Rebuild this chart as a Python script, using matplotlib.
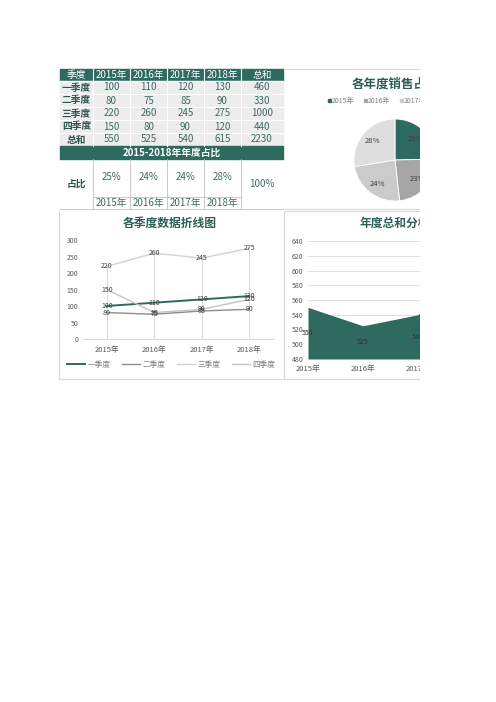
import numpy as np
import matplotlib
matplotlib.use("Agg")
import matplotlib.pyplot as plt
from matplotlib.patches import Rectangle

plt.rcParams['font.family'] = ['Noto Sans CJK SC', 'DejaVu Sans']

W, H = 496, 702

# ---- data --------------------------------------------------------------
quarters = ['一季度', '二季度', '三季度', '四季度']
years = ['2015年', '2016年', '2017年', '2018年']
q1 = [100, 110, 120, 130]
q2 = [80, 75, 85, 90]
q3 = [220, 260, 245, 275]
q4 = [150, 80, 90, 120]
row_totals = [460, 330, 1000, 440]
year_totals = [550, 525, 540, 615]
grand_total = 2230
share_labels = ['25%', '24%', '24%', '28%']
pie_labels = ['25%', '23%', '24%', '28%']

GREEN = '#2E6A60'
TITLE = '#2D5F56'
BORDER = '#D9D9D9'
pie_colors = [GREEN, '#A6A6A6', '#CBCBCB', '#DEDEDE']
line_colors = [GREEN, '#8C8C8C', '#D2D2D2', '#C4C4C4']


def px(x0, y0, x1, y1):
    return [x0 / W, 1 - y1 / H, (x1 - x0) / W, (y1 - y0) / H]


fig = plt.figure(figsize=(W / 100, H / 100), dpi=100)
bg = fig.add_axes([0, 0, 1, 1])
bg.set_xlim(0, W); bg.set_ylim(H, 0); bg.axis('off')

# ---- table -------------------------------------------------------------
cols = [60, 93, 130, 167, 204, 241, 283]
rows = [69, 81, 94, 107, 120, 133, 146]
cx = [(a + b) / 2 for a, b in zip(cols[:-1], cols[1:])]
cy = [(a + b) / 2 for a, b in zip(rows[:-1], rows[1:])]

bg.add_patch(Rectangle((60, 69), 223, 12, color=GREEN))
for x, t in zip(cx, ['季度'] + years + ['总和']):
    bg.text(x, cy[0], t, color='white', fontsize=7, ha='center', va='center')

bg.add_patch(Rectangle((60, 81), 223, 65, color='#EDEDED'))
series = [q1, q2, q3, q4]
for i in range(5):
    if i < 4:
        cells = [quarters[i]] + [series[i][j] for j in range(4)] + [row_totals[i]]
    else:
        cells = ['总和'] + year_totals + [grand_total]
    for j, (x, t) in enumerate(zip(cx, cells)):
        bg.text(x, cy[i + 1], str(t), fontsize=7, ha='center', va='center',
                color='#2F554F' if j == 0 else '#3E6A63',
                fontweight='bold' if j == 0 else 'normal')
for x in cols[1:-1]:
    bg.plot([x, x], [69, 146], color='white', lw=0.8)
for y in rows[1:-1]:
    bg.plot([60, 283], [y, y], color='white', lw=0.8)

bg.add_patch(Rectangle((60, 146), 223, 13, color=GREEN))
bg.text(171.5, 152.5, '2015-2018年年度占比', color='white', fontsize=7,
        fontweight='bold', ha='center', va='center')

for x in cols[1:-1]:
    bg.plot([x, x], [159, 209], color='#BFBFBF', lw=0.6)
bg.plot([93, 241], [197, 197], color='#BFBFBF', lw=0.6)
bg.plot([60, 283], [209, 209], color='#BFBFBF', lw=0.6)
bg.text(76.5, 184, '占比', fontsize=7, fontweight='bold', color='#2F554F',
        ha='center', va='center')
for x, s, yl in zip(cx[1:5], share_labels, years):
    bg.text(x, 177, s, fontsize=7, color='#3E6A63', ha='center', va='center')
    bg.text(x, 203, yl, fontsize=7, color='#3E6A63', ha='center', va='center')
bg.text(262, 184, '100%', fontsize=7, color='#3E6A63', ha='center', va='center')

# ---- panel borders -----------------------------------------------------
for y in [69, 209]:
    bg.plot([285, 420], [y, y], color=BORDER, lw=0.8)
bg.plot([59, 420], [379, 379], color=BORDER, lw=0.8)
bg.plot([59, 59], [211, 379], color=BORDER, lw=0.8)
bg.plot([284, 284], [211, 379], color=BORDER, lw=0.8)
bg.plot([285, 420], [211, 211], color=BORDER, lw=0.8)

# ---- pie ---------------------------------------------------------------
bg.text(395, 84, '各年度销售占比', fontsize=9, fontweight='bold', color=TITLE,
        ha='center', va='center')
for k, (x, yl) in enumerate(zip([328, 364, 400, 436], years)):
    bg.add_patch(Rectangle((x, 99), 3, 3, color=pie_colors[k]))
    bg.text(x + 4, 101, yl, fontsize=5, color='#808080', ha='left', va='center')

pax = fig.add_axes(px(354, 119, 436, 201))
wedges, _ = pax.pie(year_totals, colors=pie_colors, startangle=90, counterclock=False,
                    wedgeprops=dict(edgecolor='white', linewidth=0.6))
for w, lab in zip(wedges, pie_labels):
    ang = np.deg2rad((w.theta1 + w.theta2) / 2)
    pax.text(0.72 * np.cos(ang), 0.72 * np.sin(ang), lab, fontsize=5.5,
             color='#404040', ha='center', va='center')
pax.set_xlim(-1, 1); pax.set_ylim(-1, 1)

# ---- line chart --------------------------------------------------------
bg.text(170, 223, '各季度数据折线图', fontsize=8.5, fontweight='bold', color=TITLE,
        ha='center', va='center')
lax = fig.add_axes(px(83, 240, 273, 339))
xs = np.arange(len(years))
lax.vlines(xs, 0, np.max(series, axis=0), color=BORDER, lw=0.7)
for k, (s, name) in enumerate(zip(series, quarters)):
    lax.plot(xs, s, color=line_colors[k], lw=1.4 if k == 0 else 1.0, label=name)
for s in series:
    for x, v in zip(xs, s):
        lax.text(x, v, str(v), fontsize=5, color='#404040', ha='center', va='center')
lax.set_xlim(-0.5, 3.5); lax.set_ylim(0, 300)
lax.set_yticks(range(0, 301, 50))
lax.set_xticks(xs, years)
lax.tick_params(length=0, labelsize=5, labelcolor='#595959')
lax.tick_params(axis='x', labelsize=5.5, pad=5)
for sp in ['top', 'right', 'left']:
    lax.spines[sp].set_visible(False)
lax.spines['bottom'].set_color(BORDER)
lax.set_facecolor('none')
fig.legend(*lax.get_legend_handles_labels(), loc='center', ncol=4,
           bbox_to_anchor=(171 / W, 1 - 365 / H), fontsize=5.5, frameon=False,
           handlelength=2.4, columnspacing=1.5, handletextpad=0.3, labelcolor='#7F7F7F')

# ---- area chart --------------------------------------------------------
bg.text(395, 223, '年度总和分析', fontsize=8.5, fontweight='bold', color=TITLE,
        ha='center', va='center')
aax = fig.add_axes(px(308, 241, 473, 359))
aax.fill_between(xs, year_totals, 480, color=GREEN, lw=0)
for x, v in zip(xs, year_totals):
    aax.text(x, (480 + v) / 2, str(v), fontsize=5, color='#333333', ha='center', va='center')
aax.set_xlim(0, 3); aax.set_ylim(480, 640)
aax.set_yticks(range(480, 641, 20))
aax.grid(axis='y', color=BORDER, lw=0.6)
aax.set_axisbelow(True)
aax.set_xticks(xs, years)
aax.tick_params(length=0, labelsize=5, labelcolor='#595959')
aax.tick_params(axis='x', labelsize=5.5, pad=4)
for sp in aax.spines.values():
    sp.set_visible(False)
aax.set_facecolor('none')

# ---- crop on the right -------------------------------------------------
cover = fig.add_axes(px(420, 55, 496, 395))
cover.set_zorder(10)
cover.set_facecolor('white')
cover.set_xticks([]); cover.set_yticks([])
for sp in cover.spines.values():
    sp.set_visible(False)

fig.savefig("out.png", dpi=100)
